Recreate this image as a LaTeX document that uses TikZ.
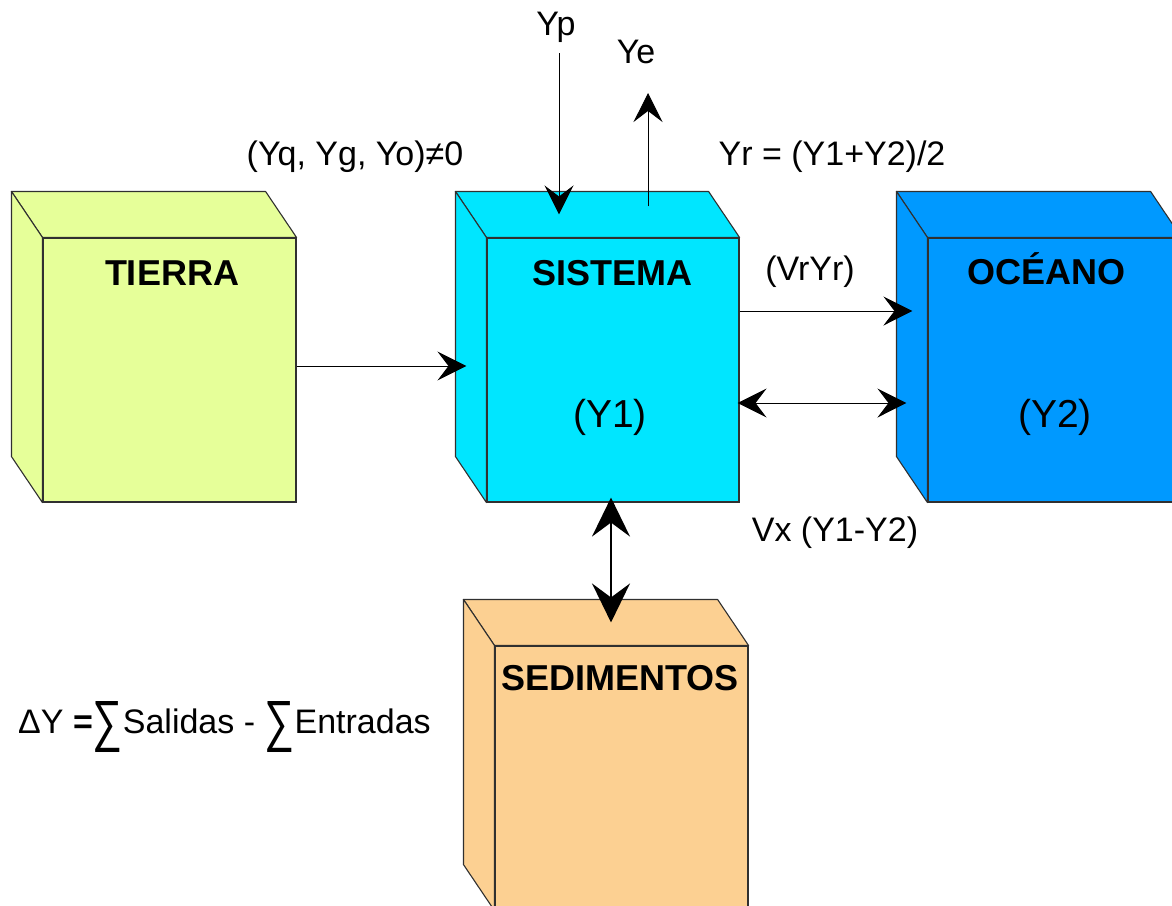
\documentclass[tikz,border=0pt]{standalone}
\usepackage{fontspec}
\usepackage{graphicx}
\setmainfont{Liberation Sans}
\usetikzlibrary{arrows.meta}
\definecolor{ctierra}{HTML}{E6FF99}
\definecolor{csistema}{HTML}{00E6FF}
\definecolor{coceano}{HTML}{0099FF}
\definecolor{csed}{HTML}{FCD092}
\definecolor{cedge}{HTML}{303030}
\tikzset{
  face/.style={draw=cedge, line width=1.1pt, minimum width=253pt, minimum height=264pt, inner sep=0pt},
  lab/.style={inner sep=0pt, anchor=base, font=\fontsize{34}{40}\selectfont},
  boldlab/.style={inner sep=0pt, anchor=base, font=\fontsize{36}{42}\selectfont\bfseries},
  biglab/.style={inner sep=0pt, anchor=base, font=\fontsize{39}{45}\selectfont},
  conn/.style={line width=1pt, -{Stealth[length=29pt,width=29pt,inset=11pt]}},
  dconn/.style={line width=1pt, {Stealth[length=29pt,width=29pt,inset=11pt]}-{Stealth[length=29pt,width=29pt,inset=11pt]}},
  vconn/.style={line width=2pt, {Stealth[length=39pt,width=38pt,inset=14pt]}-{Stealth[length=39pt,width=38pt,inset=14pt]}},
}
\newcommand\depthfaces[2]{%
  \fill[#2, draw=cedge, line width=1.1pt, line join=round]
    (#1.north west) -- ++(-31,-46) -- ([shift={(-31,-46)}]#1.north east) -- (#1.north east) -- cycle;
  \fill[#2, draw=cedge, line width=1.1pt, line join=round]
    (#1.north west) -- ++(-31,-46) -- ([shift={(-31,-46)}]#1.south west) -- (#1.south west) -- cycle;
}
\newcommand\bigsum{\raisebox{-7pt}{\resizebox{30pt}{39pt}{∑}}}
\begin{document}
\begin{tikzpicture}[x=1pt,y=-1pt]
\useasboundingbox (0,0) rectangle (1172,905);
\fill[white] (0,0) rectangle (1172,905);
% boxes
\node[face, fill=ctierra] (tierra) at (169.5,370) {};
\depthfaces{tierra}{ctierra}
\node[face, fill=csistema, minimum width=252pt] (sistema) at (613,370) {};
\depthfaces{sistema}{csistema}
\node[face, fill=coceano] (oceano) at (1054.5,370) {};
\depthfaces{oceano}{coceano}
\node[face, fill=csed] (sed) at (621.5,778) {};
\depthfaces{sed}{csed}
% box labels
\node[boldlab] (ltierra) at (172,285) {TIERRA};
\node[boldlab] (lsistema) at (612,285) {SISTEMA};
\node[boldlab] (loceano) at (1046,284) {OCÉANO};
\node[boldlab] (lsed) at (620,690) {SEDIMENTOS};
\node[biglab] (ly1) at (610,427) {(Y1)};
\node[biglab] (ly2) at (1055,427) {(Y2)};
% other labels
\node[lab] (lyp) at (556,35) {Yp};
\node[lab] (lye) at (636,63) {Ye};
\node[lab] (lyr) at (832,165) {Yr = (Y1+Y2)/2};
\node[lab] (lyq) at (355,165) {(Yq, Yg, Yo)≠0};
\node[lab] (lvryr) at (810,280) {(VrYr)};
\node[lab] (lvx) at (835,541) {Vx (Y1-Y2)};
\node[lab, anchor=base west] (leq) at (18,733) {ΔY \textbf{=}\bigsum Salidas - \bigsum Entradas};
% free ends
\coordinate (ypstart) at (559,53);
\coordinate (yeend) at (648,93);
% connectors
\draw[conn] ([yshift=4pt]tierra.east) -- ([xshift=-20pt,yshift=4pt]sistema.west);
\draw[conn] ([yshift=59pt]sistema.east) -- ([xshift=-15pt,yshift=59pt]oceano.west);
\draw[dconn] ([xshift=-2pt,yshift=-33pt]sistema.east) -- ([xshift=-21pt,yshift=-33pt]oceano.west);
\draw[conn] (ypstart) -- ([xshift=-54pt,yshift=23pt]sistema.north);
\draw[conn] ([xshift=35pt,yshift=31pt]sistema.north) -- (yeend);
\draw[vconn] ([xshift=-2pt,yshift=5pt]sistema.south) -- ([xshift=-10.5pt,yshift=23pt]sed.north);
\end{tikzpicture}
\end{document}
